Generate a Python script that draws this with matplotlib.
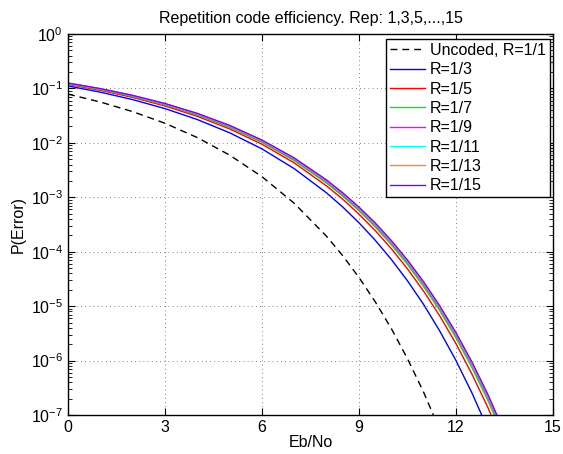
import matplotlib
matplotlib.use("Agg")
import matplotlib.pyplot as plt
from matplotlib.ticker import LogLocator, NullFormatter, FixedLocator

plt.rcParams['font.family'] = ['Liberation Sans', 'DejaVu Sans']
plt.rcParams['mathtext.fontset'] = 'custom'
plt.rcParams['mathtext.rm'] = 'Liberation Sans'
plt.rcParams['mathtext.it'] = 'Liberation Sans'
plt.rcParams['mathtext.default'] = 'regular'

# Eb/No (dB) sample positions
ebno = [0, 1, 2, 3, 4, 5, 6, 7, 8, 8.5, 9, 9.5, 10, 10.5, 11, 11.5, 12, 12.5, 13, 13.5]

uncoded = [0.0786, 0.0563, 0.0375, 0.0229, 0.0125, 0.00595, 0.00239, 7.73e-4, 1.91e-4,
           8.4e-5, 3.36e-5, 1.21e-5, 3.87e-6, 1.08e-6, 2.61e-7, 5.3e-8, 9.0e-9]
r3 = [0.1109, 0.0854, 0.0623, 0.0426, 0.0268, 0.0153, 0.00774, 0.00335, 1.199e-3, 6.60e-4,
      3.40e-4, 1.630e-4, 7.21e-5, 2.92e-5, 1.07e-5, 3.47e-6, 9.99e-7, 2.49e-7, 5.3e-8, 9.4e-9]
r5 = [0.1185, 0.09226, 0.0684, 0.04759, 0.03074, 0.01806, 0.009437, 0.00427, 1.612e-3, 9.19e-4,
      4.90e-4, 2.455e-4, 1.138e-4, 4.84e-5, 1.88e-5, 6.57e-6, 2.04e-6, 5.53e-7, 1.32e-7, 2.65e-8]
r7 = [0.12154, 0.09529, 0.07102, 0.04984, 0.03249, 0.01931, 0.010213, 0.004692, 0.0018135, 0.0010426,
      5.646e-4, 2.859e-4, 1.342e-4, 5.81e-5, 2.276e-5, 8.17e-6, 2.596e-6, 7.26e-7, 1.775e-7, 3.7e-8]
r9 = [0.12336, 0.096982, 0.072472, 0.051058, 0.033441, 0.019997, 0.01066, 0.0049459, 0.0019238, 0.0011068,
      6.043e-4, 3.0806e-4, 1.4515e-4, 6.349e-5, 2.515e-5, 9.066e-6, 2.905e-6, 8.20e-7, 2.011e-7, 4.24e-8]
r11 = [0.12446, 0.097995, 0.073457, 0.051905, 0.034072, 0.02039, 0.010944, 0.0050904, 0.0019951, 0.0011547,
       6.2847e-4, 3.2106e-4, 1.5268e-4, 6.652e-5, 2.664e-5, 9.54e-6, 3.07e-6, 8.67e-7, 2.152e-7, 4.54e-8]
r13 = [0.12536, 0.098789, 0.074079, 0.052467, 0.034433, 0.020744, 0.011115, 0.005187, 0.0020368, 0.0011871,
       6.4744e-4, 3.3054e-4, 1.5682e-4, 6.893e-5, 2.740e-5, 9.87e-6, 3.18e-6, 9.08e-7, 2.23e-7, 4.71e-8]
r15 = [0.12584, 0.099219, 0.07462, 0.052852, 0.034817, 0.020913, 0.011255, 0.0052671, 0.0020742, 0.0012036,
       6.5908e-4, 3.387e-4, 1.604e-4, 7.004e-5, 2.792e-5, 1.0045e-5, 3.25e-6, 9.22e-7, 2.29e-7, 4.77e-8]

coded = [r3, r5, r7, r9, r11, r13, r15]
coded_labels = ['R=1/3', 'R=1/5', 'R=1/7', 'R=1/9', 'R=1/11', 'R=1/13', 'R=1/15']
coded_colors = ['#0000ff', '#ff0000', '#00ee00', '#ff00ff', '#00ffff', '#ff8c1a', '#8000ff']

x_ticks = [0, 3, 6, 9, 12, 15]
title = 'Repetition code efficiency. Rep: 1,3,5,...,15'

FS = 11.5

fig = plt.figure(figsize=(5.63, 4.54), dpi=100)
ax = fig.add_axes([68/563, 39/454, 485/563, 381/454])

ax.plot(ebno[:len(uncoded)], uncoded, color='black', lw=1.0, ls=(0, (5, 3.5)),
        label='Uncoded, R=1/1')
for vals, lab, col in zip(coded, coded_labels, coded_colors):
    ax.plot(ebno, vals, color=col, lw=1.0, label=lab)

ax.set_yscale('log')
ax.set_xlim(0, 15)
ax.set_ylim(1e-7, 1)
ax.xaxis.set_major_locator(FixedLocator(x_ticks))
ax.yaxis.set_major_locator(LogLocator(base=10, numticks=20))
ax.yaxis.set_minor_locator(LogLocator(base=10, subs=range(2, 10), numticks=20))
ax.yaxis.set_minor_formatter(NullFormatter())

ax.grid(True, which='major', ls=(0, (1, 4)), color='0.35', lw=0.6)
ax.tick_params(which='both', direction='in', top=True, right=True, labelsize=FS)
ax.tick_params(which='major', length=5, width=0.8)
ax.tick_params(which='minor', length=3, width=0.6)
for s in ax.spines.values():
    s.set_linewidth(1.0)

ax.set_title(title, fontsize=FS, pad=8)
ax.set_xlabel('Eb/No', fontsize=FS, labelpad=0)
ax.set_ylabel('P(Error)', fontsize=FS, labelpad=4)

leg = ax.legend(loc='upper right', bbox_to_anchor=(0.9938, 0.9869), borderaxespad=0,
                fontsize=FS, fancybox=False, edgecolor='black', framealpha=1,
                handlelength=2.2, handletextpad=0.3, labelspacing=0.27, borderpad=0.25)
leg.get_frame().set_linewidth(1.0)

fig.savefig('out.png', dpi=100)
